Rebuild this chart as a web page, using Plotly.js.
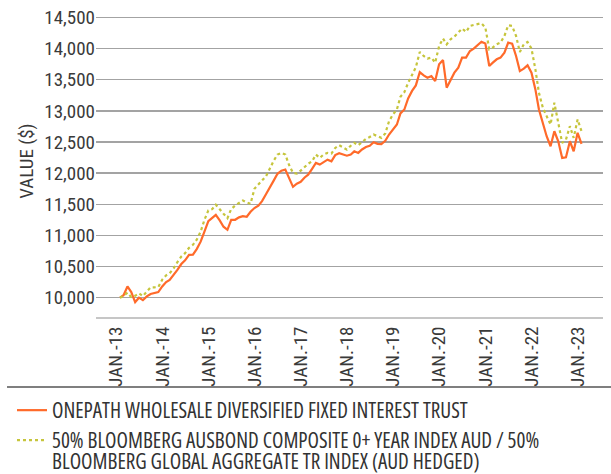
<!DOCTYPE html>
<html>
<head>
<meta charset="utf-8">
<script src="https://cdn.plot.ly/plotly-3.0.1.min.js"></script>
<style>
html,body{margin:0;padding:0;background:#fff;}
#chart{width:611px;height:474px;}
svg text{font-stretch:75% !important;}
</style>
</head>
<body>
<div id="chart"></div>
<script>
// Month-end dates, Jan 2013 .. Jan 2023
const months = [];
for (let y = 2013; y <= 2023; y++) {
  for (let m = 1; m <= 12; m++) {
    if (y === 2023 && m > 1) break;
    const last = new Date(Date.UTC(y, m, 0)).getUTCDate();
    months.push(y + '-' + String(m).padStart(2, '0') + '-' + String(last).padStart(2, '0'));
  }
}

const fundName = 'ONEPATH WHOLESALE DIVERSIFIED FIXED INTEREST TRUST';
const benchName = '50% BLOOMBERG AUSBOND COMPOSITE 0+ YEAR INDEX AUD / 50%';
const benchName2 = 'BLOOMBERG GLOBAL AGGREGATE TR INDEX (AUD HEDGED)';

const fundValues = [
  10000,10040,10180,10090,9930,10000,9960,10020,10060,10080,10090,10180,
  10250,10285,10360,10446,10540,10600,10688,10690,10780,10900,11060,11230,
  11283,11330,11240,11140,11090,11250,11251,11290,11310,11300,11380,11440,
  11477,11550,11660,11780,11880,11990,12040,12056,11920,11780,11830,11860,
  11930,11976,12070,12164,12137,12180,12217,12190,12290,12320,12300,12280,
  12300,12350,12325,12380,12420,12440,12496,12470,12465,12520,12620,12700,
  12781,12960,13022,13200,13320,13409,13623,13570,13533,13560,13478,13747,
  13816,13372,13506,13614,13694,13855,13855,13961,14000,14050,14110,14080,
  13720,13774,13828,13855,13935,14096,14080,13881,13639,13678,13731,13614,
  13345,13022,12808,12593,12432,12673,12512,12245,12254,12512,12351,12647,
  12470
];

const benchValues = [
  10000,10030,10080,10010,10030,10071,10027,10100,10167,10167,10170,10290,
  10360,10393,10470,10570,10660,10715,10800,10849,10930,11060,11250,11401,
  11423,11493,11412,11348,11278,11423,11480,11520,11562,11530,11509,11750,
  11815,11870,11950,12070,12200,12298,12325,12298,12130,12003,11992,12040,
  12100,12150,12190,12298,12245,12300,12325,12314,12405,12448,12416,12378,
  12440,12486,12448,12500,12550,12580,12620,12593,12567,12636,12834,12942,
  13022,13227,13300,13450,13580,13700,13945,13881,13839,13855,13774,14040,
  14161,14069,14150,14193,14258,14322,14268,14364,14380,14391,14407,14338,
  13989,14016,14069,14096,14203,14375,14364,14203,13945,14069,14106,14000,
  13667,13291,13050,12915,12781,13130,12808,12486,12539,12754,12567,12862,
  12673
];

const tickDates = ['2013-01-01','2014-01-01','2015-01-01','2016-01-01','2017-01-01','2018-01-01',
                   '2019-01-01','2020-01-01','2021-01-01','2022-01-01','2023-01-01'];
const tickLabels = ['JAN.-13','JAN.-14','JAN.-15','JAN.-16','JAN.-17','JAN.-18',
                    'JAN.-19','JAN.-20','JAN.-21','JAN.-22','JAN.-23'];
const yTicks = [10000,10500,11000,11500,12000,12500,13000,13500,14000,14500];

const FONT = '"Open Sans", "DejaVu Sans Condensed", sans-serif';
const AXFONT = 'Roboto, "Open Sans", sans-serif';
const TXT = '#3a3a3a';

const traces = [
  {x: months, y: fundValues, name: fundName, type: 'scatter', mode: 'lines',
   line: {color: '#ff6a2a', width: 2.2}, legend: 'legend'},
  {x: months, y: benchValues, name: benchName, type: 'scatter', mode: 'lines',
   line: {color: '#c6c53c', width: 2.2, dash: 'dot'}, legend: 'legend2'}
];

const legendBase = {
  x: -0.1657, xanchor: 'left', yanchor: 'top',
  bgcolor: 'rgba(0,0,0,0)', font: {size: 21, color: '#333'}, tracegroupgap: 0
};

const layout = {
  width: 611, height: 474,
  margin: {l: 96, r: 8, t: 5, b: 157},
  paper_bgcolor: '#fff', plot_bgcolor: '#fff',
  font: {family: FONT, size: 21, color: TXT},
  showlegend: true,
  xaxis: {
    type: 'date', range: ['2012-07-25', '2023-07-20'],
    tickvals: tickDates, ticktext: tickLabels, tickangle: -90,
    showgrid: false, zeroline: false,
    showline: true, linecolor: '#c6c6c6', linewidth: 2,
    ticks: '', tickfont: {family: AXFONT, size: 19, color: TXT}
  },
  yaxis: {
    range: [9690, 14700], tickvals: yTicks, tickformat: ',d',
    showgrid: true, gridcolor: '#a3a3a3', gridwidth: 1.3,
    zeroline: false, showline: false, ticks: '',
    tickfont: {family: AXFONT, size: 19, color: TXT},
    title: {text: 'VALUE ($)', font: {family: AXFONT, size: 19, color: TXT}, standoff: 5}
  },
  legend: Object.assign({}, legendBase, {y: -0.234}),
  legend2: Object.assign({}, legendBase, {y: -0.3301}),
  shapes: [
    {type: 'line', xref: 'paper', yref: 'paper', x0: -0.1755, x1: 1.02, y0: -0.2244, y1: -0.2244,
     line: {color: '#555', width: 1.5}}
  ],
  annotations: [
    {xref: 'paper', yref: 'paper', x: -0.0907, y: -0.4615, xanchor: 'left', yanchor: 'middle',
     text: benchName2, showarrow: false, font: {size: 21, color: '#333'}}
  ]
};

Plotly.newPlot('chart', traces, layout, {displayModeBar: false, staticPlot: true});
</script>
</body>
</html>
